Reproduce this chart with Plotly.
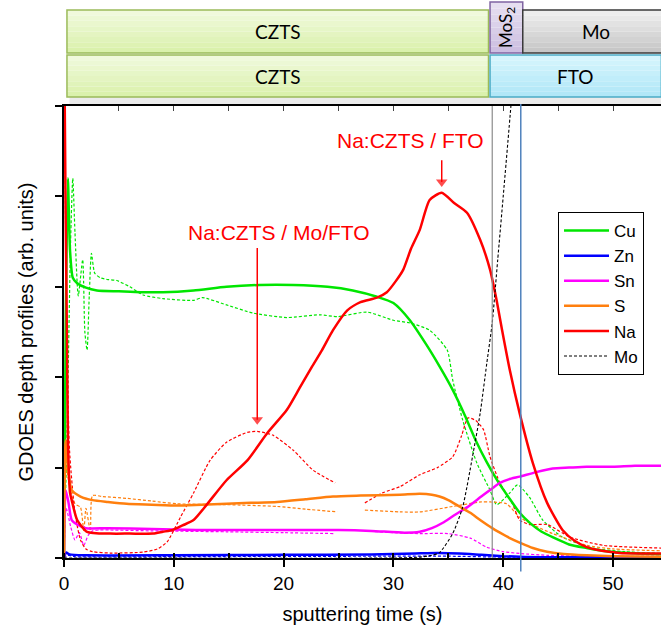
import plotly.graph_objects as go

# ---------------- depth-profile data (sputtering time in s, intensity in arb. units)
# Na:CZTS / FTO sample (solid lines)
t_cu_fto = [0, 0.15, 0.35, 0.55, 0.8, 1.2, 2, 3, 5, 7, 9, 11.8, 14.8, 17.8, 20.9, 24, 26.3, 28.5,
            30, 31.5, 33, 34.2, 35.4, 36.5, 37.5, 38.5, 39.5, 40.5, 41.5, 42.5, 43.5, 44.5, 46,
            47.6, 49, 50.6, 52.5, 54.4]
cu_fto = [0, 2.5, 4.2, 3.4, 3.1, 3.04, 2.99, 2.96, 2.95, 2.94, 2.94, 2.96, 3.0, 3.02, 3.02, 3.0, 2.96,
          2.89, 2.82, 2.63, 2.36, 2.12, 1.86, 1.58, 1.3, 1.06, 0.85, 0.67, 0.5, 0.38, 0.29, 0.23,
          0.15, 0.11, 0.08, 0.06, 0.05, 0.04]

t_zn_fto = [0, 0.2, 0.5, 2, 10, 20, 28, 32, 34, 36, 38, 40, 42, 45, 54.4]
zn_fto = [0, 0.06, 0.04, 0.03, 0.03, 0.035, 0.04, 0.05, 0.055, 0.05, 0.035, 0.02, 0.012, 0.008, 0.006]

t_sn_fto = [0, 0.15, 0.4, 0.7, 1.2, 2, 4, 8, 12, 16, 20, 25, 28, 31, 32.4, 33.5, 34.5, 35.5, 36.7,
            38, 39, 39.7, 40.5, 41.5, 43, 44.5, 46, 47.6, 50, 52, 54.4]
sn_fto = [0, 0.75, 0.62, 0.42, 0.37, 0.33, 0.33, 0.32, 0.31, 0.31, 0.31, 0.31, 0.3, 0.28, 0.29, 0.33,
          0.39, 0.47, 0.56, 0.68, 0.77, 0.83, 0.87, 0.9, 0.95, 0.99, 1.0, 1.01, 1.01, 1.02, 1.02]

t_s_fto = [0, 0.15, 0.4, 0.7, 1.5, 2.6, 4, 5.7, 8, 10.3, 12.5, 14.8, 17, 19.4, 22, 24.5, 27, 30.6,
           32.4, 33.5, 34.2, 35, 36, 37, 37.9, 39, 39.7, 40.6, 41.5, 42.7, 44, 45.5, 47.6, 50, 54.4]
s_fto = [0, 1.3, 0.95, 0.75, 0.68, 0.64, 0.62, 0.6, 0.59, 0.58, 0.59, 0.6, 0.61, 0.62, 0.65, 0.68,
         0.69, 0.7, 0.71, 0.7, 0.68, 0.64, 0.57, 0.5, 0.42, 0.33, 0.28, 0.22, 0.17, 0.11, 0.07,
         0.045, 0.03, 0.02, 0.015]

t_na_fto = [0, 0.15, 0.27, 0.36, 0.55, 0.7, 1.2, 2.1, 4.2, 6, 8.1, 9, 9.9, 10.8, 11.8, 13, 14.8,
            16.7, 18.5, 20.3, 21.5, 22.6, 23.5, 24.5, 25.8, 27, 28.5, 29.4, 30.2, 30.9, 31.6, 32.4,
            33.3, 34.4, 35.5, 36.7, 37.9, 38.8, 39.4, 39.9, 40.6, 41.5, 42.7, 44, 45.4, 46.5, 47.6,
            49, 50.6, 52.5, 54.4]
na_fto = [6, 3.8, 2.41, 1.3, 0.72, 0.64, 0.42, 0.29, 0.27, 0.27, 0.27, 0.29, 0.31, 0.36, 0.42, 0.59,
          0.86, 1.08, 1.38, 1.64, 1.89, 2.12, 2.3, 2.52, 2.74, 2.83, 2.88, 2.94, 3.06, 3.19, 3.42,
          3.63, 3.96, 4.04, 3.93, 3.82, 3.52, 3.19, 2.85, 2.52, 2.08, 1.6, 1.05, 0.61, 0.31, 0.19,
          0.12, 0.08, 0.055, 0.05, 0.05]

# Na:CZTS / Mo/FTO sample (dashed lines)
t_cu_mo = [0, 0.3, 0.6, 0.8, 1.0, 1.3, 1.7, 1.9, 2.1, 2.3, 2.5, 2.8, 3.3, 4, 4.8, 6, 7.2, 9, 11.8,
           12.6, 14.8, 17.2, 20.3, 23.3, 24.9, 27.6, 30, 31.5, 33.3, 34.9, 35.4, 36.3, 37.6, 38.8,
           39.4, 40.6, 41.3, 42.4, 43.6, 45.4, 48.2, 51, 54.4]
cu_mo = [0, 1.5, 3.5, 4.2, 3.6, 2.9, 3.3, 2.5, 2.3, 2.9, 3.37, 3.15, 3.1, 3.08, 3.07, 3.0, 2.91, 2.87,
         2.85, 2.88, 2.8, 2.71, 2.66, 2.69, 2.67, 2.72, 2.63, 2.6, 2.52, 2.3, 1.97, 1.53, 1.05, 0.75,
         0.59, 0.72, 0.81, 0.67, 0.42, 0.23, 0.11, 0.07, 0.05]

t_zn_mo = [0, 0.3, 1, 10, 30, 35, 40, 54.4]
zn_mo = [0, 0.03, 0.015, 0.015, 0.02, 0.02, 0.01, 0.005]

t_sn_mo = [0, 0.2, 0.6, 1.0, 1.4, 1.8, 2.2, 2.6, 3.2, 4.2, 8, 14.8, 20, 24.7, None, 27.4, 30, 32.4,
           35, 37, 38.5, 40, 41.5, 44, 48, 54.4]
sn_mo = [0, 0.55, 0.35, 0.2, 0.28, 0.14, 0.25, 0.3, 0.31, 0.31, 0.3, 0.29, 0.28, 0.27, None, 0.3,
         0.28, 0.27, 0.27, 0.22, 0.12, 0.07, 0.05, 0.03, 0.02, 0.02]

t_s_mo = [0, 0.2, 0.5, 1.0, 1.5, 1.8, 2.0, 2.4, 2.6, 3.5, 5.7, 8, 10.3, 14.8, 19.4, 22, 24.9, None,
          27.4, 30.6, 32.4, 35.4, 38, 38.8, 40.3, 41.5, 43, 44.5, 47.6, 50, 54.4]
s_mo = [0, 1.0, 0.8, 0.6, 0.56, 0.3, 0.55, 0.3, 0.69, 0.68, 0.66, 0.63, 0.6, 0.59, 0.57, 0.54, 0.51,
        None, 0.53, 0.51, 0.51, 0.57, 0.62, 0.62, 0.6, 0.45, 0.35, 0.27, 0.14, 0.1, 0.08]

t_na_mo = [0, 0.2, 0.5, 1.0, 1.5, 2.0, 2.6, 4.2, 7.2, 8.5, 9.4, 10.6, 11.8, 13.3, 14.8, 16.7, 17.6,
           19, 20.9, 22.7, 24.7, None, 27.4, 29, 30.6, 32.4, 34, 35.4, 36.2, 36.8, 37.5, 38.2, 38.8,
           39.7, 40.8, 41.5, 42.4, 44, 46.1, 49.1, 54.4]
na_mo = [6, 3, 1.2, 0.5, 0.2, 0.1, 0.07, 0.055, 0.065, 0.1, 0.18, 0.45, 0.72, 1.08, 1.28, 1.39, 1.40,
         1.36, 1.19, 0.97, 0.83, None, 0.61, 0.72, 0.79, 0.92, 1.0, 1.12, 1.35, 1.55, 1.52, 1.42,
         1.12, 0.83, 0.61, 0.42, 0.37, 0.37, 0.23, 0.14, 0.11]

t_mo = [0, 30, 32.4, 33.5, 34.2, 35.4, 36.3, 37.2, 37.9, 38.5, 39, 39.5, 40, 40.7, 41.2]
mo = [0, 0, 0.01, 0.03, 0.06, 0.27, 0.56, 1.12, 1.6, 2.15, 2.6, 3.3, 4.0, 5.0, 5.8]

# interface markers (s)
t_mos2_interface = 39.0
t_fto_interface = 41.6

# layer stack boxes drawn above the plot (start, end in s)
stack_top = [("CZTS", 0.27, 38.66), ("MoS<sub>2</sub>", 38.8, 41.78), ("Mo", 41.78, 55.2)]
stack_bottom = [("CZTS", 0.27, 38.66), ("FTO", 38.8, 54.4)]

# peak labels and the time windows holding the labelled Na maxima
label_fto = "Na:CZTS / FTO"
label_mo = "Na:CZTS / Mo/FTO"
window_fto = (30, 38)
window_mo = (14, 21)

X_MAX = 54.37
Y_MAX = 5

colors = {"Cu": "#00e600", "Zn": "#0000ff", "Sn": "#ff00ff", "S": "#ff7f0e", "Na": "#ff0000"}
FONT = "Arial, 'Liberation Sans', sans-serif"

fig = go.Figure()

# dashed series (Mo/FTO sample) underneath
for name, tx, vy in [("Cu", t_cu_mo, cu_mo), ("Zn", t_zn_mo, zn_mo), ("Sn", t_sn_mo, sn_mo),
                     ("S", t_s_mo, s_mo), ("Na", t_na_mo, na_mo)]:
    fig.add_trace(go.Scatter(x=tx, y=vy, mode="lines", showlegend=False, connectgaps=False,
                             line=dict(color=colors[name], width=1.2, dash="3px,2px",
                                       shape="spline", smoothing=0.6)))

# solid series (FTO sample)
for name, tx, vy in [("Cu", t_cu_fto, cu_fto), ("Zn", t_zn_fto, zn_fto), ("Sn", t_sn_fto, sn_fto),
                     ("S", t_s_fto, s_fto), ("Na", t_na_fto, na_fto)]:
    fig.add_trace(go.Scatter(x=tx, y=vy, mode="lines", name=name,
                             line=dict(color=colors[name], width=2.5, shape="spline",
                                       smoothing=0.6)))

fig.add_trace(go.Scatter(x=t_mo, y=mo, mode="lines", name="Mo",
                         line=dict(color="black", width=1.1, dash="3px,2px", shape="spline",
                                   smoothing=0.6)))

# helper trace for the mirrored top axis
fig.add_trace(go.Scatter(x=[None], y=[None], xaxis="x2", showlegend=False, hoverinfo="skip"))

# interface lines
fig.add_shape(type="line", xref="x", yref="paper", x0=t_mos2_interface, x1=t_mos2_interface,
              y0=0, y1=1, line=dict(color="#8c8c8c", width=1.2))
fig.add_shape(type="line", xref="x", yref="paper", x0=t_fto_interface, x1=t_fto_interface,
              y0=-0.03, y1=1.02, line=dict(color="#4f81bd", width=1.5))


def hex_mix(c1, c2, f):
    a = [int(c1[i:i + 2], 16) for i in (1, 3, 5)]
    b = [int(c2[i:i + 2], 16) for i in (1, 3, 5)]
    return "#" + "".join(f"{round(a[k] + (b[k] - a[k]) * f):02x}" for k in range(3))


def layer_box(x0, x1, y0, y1, top_col, bot_col, border, n=8):
    # vertical gradient made of thin bands, then a framed outline
    for i in range(n):
        ya = y1 - (y1 - y0) * i / n
        yb = y1 - (y1 - y0) * (i + 1) / n
        fig.add_shape(type="rect", xref="x", yref="paper", x0=x0, x1=x1, y0=yb, y1=ya,
                      line=dict(width=0), fillcolor=hex_mix(top_col, bot_col, (i + 0.5) / n),
                      layer="above")
    fig.add_shape(type="rect", xref="x", yref="paper", x0=x0, x1=x1, y0=y0, y1=y1,
                  line=dict(color=border, width=1.5), fillcolor="rgba(0,0,0,0)", layer="above")


PLOT_H = 452.0


def py(px):
    # pixel row above the plot area -> paper coordinate
    return (558 - px) / PLOT_H


# soft shadow under the stack
fig.add_shape(type="rect", xref="x", yref="paper", x0=0.5, x1=X_MAX, y0=py(104), y1=py(96),
              line=dict(width=0), fillcolor="#ebebeb")

box_style = {
    "CZTS": ("#f1fadf", "#d9f0a9", "#9bbb59"),
    "MoS<sub>2</sub>": ("#e8e1f1", "#cbbde0", "#8064a2"),
    "Mo": ("#f0f0f0", "#c4c4c4", "#3a3a3a"),
    "FTO": ("#d8f6fd", "#aee6f7", "#4bacc6"),
}

for label, x0, x1 in stack_top:
    y0, y1 = (py(53), py(10)) if label != "MoS<sub>2</sub>" else (py(53), py(2))
    c = box_style[label]
    layer_box(x0, x1, y0, y1, c[0], c[1], c[2])
for label, x0, x1 in stack_bottom:
    c = box_style[label]
    layer_box(x0, x1, py(97), py(55), c[0], c[1], c[2])

box_font = dict(family="Lato, 'Open Sans', sans-serif", size=19, color="black")
for label, x0, x1 in stack_top:
    if label.startswith("MoS"):
        fig.add_annotation(x=(x0 + x1) / 2, y=(py(53) + py(2)) / 2, xref="x", yref="paper",
                           xanchor="center", yanchor="middle",
                           text=label, showarrow=False, textangle=-90,
                           font=dict(family=box_font["family"], size=17, color="black"))
    else:
        fig.add_annotation(x=(x0 + x1) / 2, y=(py(53) + py(10)) / 2, xref="x", yref="paper",
                           xanchor="center", yanchor="middle",
                           text=label, showarrow=False, font=box_font)
for label, x0, x1 in stack_bottom:
    fig.add_annotation(x=(x0 + x1) / 2, y=(py(97) + py(55)) / 2, xref="x", yref="paper",
                       xanchor="center", yanchor="middle",
                       text=label, showarrow=False, font=box_font)


def peak_in(tx, vy, window):
    pts = [(v, t) for t, v in zip(tx, vy) if t is not None and window[0] <= t <= window[1]]
    v, t = max(pts)
    return t, v


def pointer(t, tail, head):
    # vertical red pointer: stem from tail down to head, with a triangular tip
    fig.add_trace(go.Scatter(x=[t, t], y=[tail, head], mode="lines+markers", showlegend=False,
                             hoverinfo="skip", line=dict(color="#ff0000", width=1.5),
                             marker=dict(symbol="triangle-down", size=[0, 10], color="#ff0000",
                                         line=dict(width=0))))


# peak labels with pointers
red_font = dict(family=FONT, size=21, color="#ff0000")
pk_t, pk_v = peak_in(t_na_fto, na_fto, window_fto)
fig.add_annotation(x=31.6, y=4.62, text=label_fto, showarrow=False, font=red_font)
pointer(pk_t, 4.40, pk_v + 0.12)

pk_t, pk_v = peak_in(t_na_mo, na_mo, window_mo)
fig.add_annotation(x=19.6, y=3.6, text=label_mo, showarrow=False, font=red_font)
pointer(pk_t, 3.43, pk_v + 0.13)

fig.update_layout(
    width=661, height=629,
    margin=dict(l=64, r=0, t=106, b=71),
    paper_bgcolor="white", plot_bgcolor="white",
    font=dict(family=FONT, color="black"),
    showlegend=True,
    legend=dict(x=0.8275, y=0.7655, xanchor="left", yanchor="top",
                bordercolor="black", borderwidth=1, bgcolor="white",
                font=dict(family=FONT, size=17, color="black"), itemwidth=45,
                tracegroupgap=0),
    xaxis=dict(range=[0, X_MAX], dtick=10, tick0=0, ticks="outside", ticklen=7, tickwidth=1.5,
               tickcolor="black", showline=True, linewidth=2, linecolor="black",
               showgrid=False, zeroline=False,
               tickfont=dict(family=FONT, size=19, color="black"),
               minor=dict(dtick=5, ticks="inside", ticklen=5, tickwidth=1.5, tickcolor="black"),
               title=dict(text="sputtering time (s)", font=dict(family=FONT, size=20, color="black"),
                          standoff=14)),
    xaxis2=dict(range=[0, X_MAX], overlaying="x", side="top", anchor="y", matches="x",
                dtick=5, tick0=0, ticks="inside", ticklen=5, tickwidth=1.2, tickcolor="#444",
                showticklabels=False, showline=True, linewidth=1.5, linecolor="black",
                showgrid=False, zeroline=False),
    yaxis=dict(range=[0, Y_MAX], dtick=1, tick0=0, ticks="outside", ticklen=7, tickwidth=1.5,
               tickcolor="black", showticklabels=False, showline=True, linewidth=2,
               linecolor="black", showgrid=False, zeroline=False,
               title=dict(text="GDOES depth profiles (arb. units)",
                          font=dict(family=FONT, size=20, color="black"), standoff=16)),
)

fig.write_html("out.html")
